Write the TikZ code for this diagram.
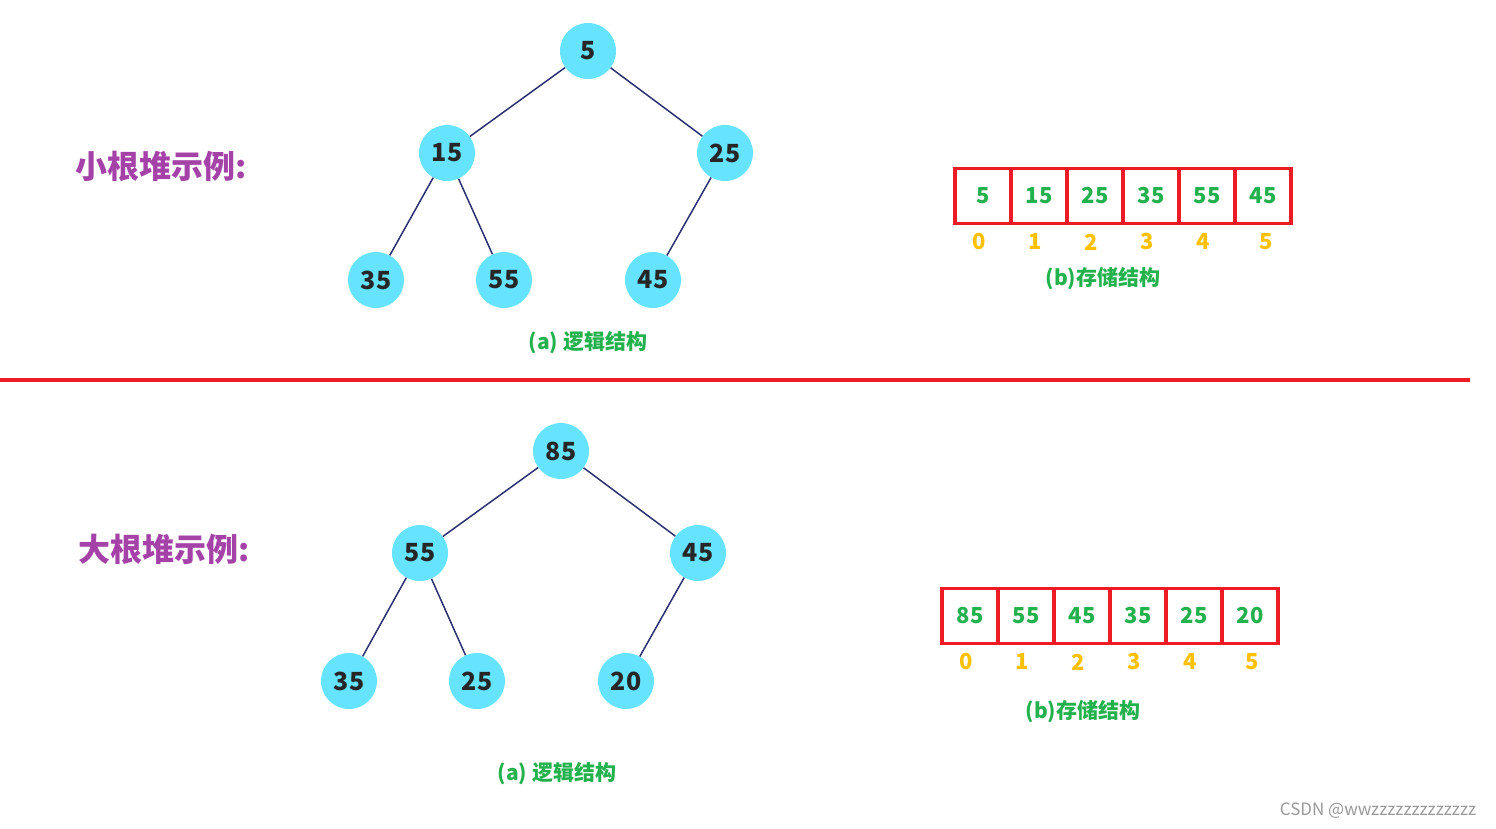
\documentclass[tikz,border=0pt]{standalone}
\usepackage{fontspec}
\setmainfont{Noto Sans CJK SC}
\definecolor{heapnode}{HTML}{66E3FF}
\definecolor{heapedge}{HTML}{2B3170}
\definecolor{capgreen}{HTML}{22B14C}
\definecolor{idxyellow}{HTML}{FFC000}
\definecolor{titlepurple}{HTML}{A442A8}
\definecolor{boxred}{HTML}{ED1C24}
\tikzset{
  hnode/.style={circle,fill=heapnode,minimum size=56pt,inner sep=0pt,font=\fontsize{25}{27}\selectfont\bfseries,text=black!85},
  hedge/.style={draw=heapedge,line width=1.5pt},
  cell/.style={draw=boxred,line width=3.5pt,minimum width=56pt,minimum height=55pt,inner sep=0pt,text=capgreen,font=\fontsize{22}{24}\selectfont\bfseries},
  idx/.style={text=idxyellow,font=\fontsize{22}{24}\selectfont\bfseries},
  caption/.style={text=capgreen,font=\fontsize{21}{24}\selectfont\bfseries},
  title/.style={text=titlepurple,font=\fontsize{32}{34}\selectfont\bfseries}
}
\begin{document}
\begin{tikzpicture}[x=1pt,y=-1pt]
\useasboundingbox (0,0) rectangle (1496,828);

% small heap
\node[title] (t1) at (161,166) {小根堆示例:};
\node[hnode] (a5) at (588,51) {5};
\node[hnode] (a15) at (447,153) {15};
\node[hnode] (a25) at (725,153) {25};
\node[hnode] (a35) at (376,280) {35};
\node[hnode] (a55) at (504,280) {55};
\node[hnode] (a45) at (653,280) {45};
\draw[hedge] (a5) -- (a15);
\draw[hedge] (a5) -- (a25);
\draw[hedge] (a15) -- (a35);
\draw[hedge] (a15) -- (a55);
\draw[hedge] (a25) -- (a45);
\node[caption] (ca1) at (588,343) {(a) 逻辑结构};
\foreach \v [count=\i from 0] in {5,15,25,35,55,45}
  \node[cell] (s\i) at (983+\i*56,196) {\v};
\foreach \x [count=\i from 0] in {979,1035,1091,1147,1203,1266}
  \node[idx] (si\i) at (\x,242) {\i};
\node[caption] (cb1) at (1103,279) {(b)存储结构};

% divider
\draw[boxred,line width=4pt] (0,380) -- (1470,380);

% big heap
\node[title] (t2) at (164,549) {大根堆示例:};
\node[hnode] (b85) at (561,451) {85};
\node[hnode] (b55) at (420,553) {55};
\node[hnode] (b45) at (698,553) {45};
\node[hnode] (b35) at (349,681) {35};
\node[hnode] (b25) at (477,681) {25};
\node[hnode] (b20) at (626,681) {20};
\draw[hedge] (b85) -- (b55);
\draw[hedge] (b85) -- (b45);
\draw[hedge] (b55) -- (b35);
\draw[hedge] (b55) -- (b25);
\draw[hedge] (b45) -- (b20);
\node[caption] (ca2) at (557,774) {(a) 逻辑结构};
\foreach \v [count=\i from 0] in {85,55,45,35,25,20}
  \node[cell] (g\i) at (970+\i*56,616) {\v};
\foreach \x [count=\i from 0] in {966,1022,1078,1134,1190,1252}
  \node[idx] (gi\i) at (\x,662) {\i};
\node[caption] (cb2) at (1083,712) {(b)存储结构};

\node[text=black!40,font=\fontsize{17}{18}\selectfont] (wm) at (1378,811) {CSDN @wwzzzzzzzzzzzzz};
\end{tikzpicture}
\end{document}
